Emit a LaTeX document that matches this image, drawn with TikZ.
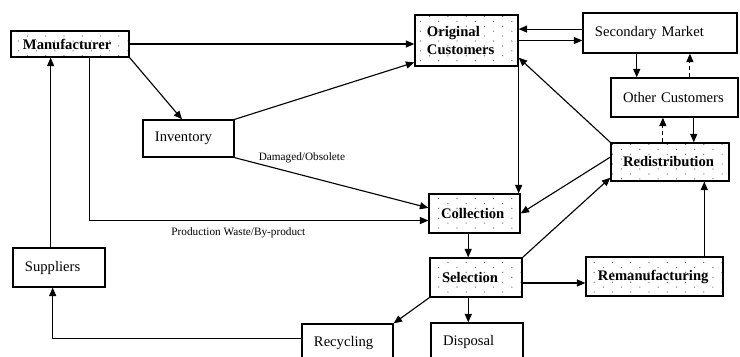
\documentclass[tikz,border=0pt]{standalone}
\usepackage{fontspec}
\setmainfont{Liberation Serif}
\usetikzlibrary{arrows.meta,calc,patterns}

\pgfdeclarepatternformonly{sparsedots}{\pgfqpoint{-1pt}{-1pt}}{\pgfqpoint{8pt}{5pt}}{\pgfqpoint{13pt}{7pt}}{%
	\pgfpathcircle{\pgfqpoint{0pt}{0pt}}{0.45pt}%
	\pgfpathcircle{\pgfqpoint{6.5pt}{3.5pt}}{0.45pt}%
	\pgfusepath{fill}}

\begin{document}
\begin{tikzpicture}[x=0.025cm, y=-0.025cm,
		every node/.style = {font=\fontsize{10.4}{13}\selectfont},
		box/.style 2 args = {draw, line width=0.9pt, inner xsep=0.3cm,
			align=left, text width=#1, minimum height=#2},
		dotbox/.style 2 args = {box={#1}{#2}, pattern=sparsedots,
			pattern color=black!65, font=\fontsize{10.4}{13}\selectfont\bfseries},
		lbl/.style = {font=\fontsize{8}{9}\selectfont, inner sep=1pt},
		flow/.style = {draw, line width=0.8pt, -{Triangle[length=6pt,width=5pt]}},
		back/.style = {flow, densely dashed}]
	\useasboundingbox (0,0) rectangle (740,356);
	\clip (0,0) rectangle (740,356);
	% boxes
	\node (mfr)   [dotbox={2.35cm}{0.65cm}]   at (70,44)      {Manufacturer};
	\node (ocust) [dotbox={1.975cm}{1.275cm}] at (466.5,40.5) {Original\\Customers};
	\node (sm)    [box={3.25cm}{1.0cm}]       at (660,33)     {Secondary Market};
	\node (oth)   [box={2.575cm}{0.975cm}]    at (674.5,97.5) {Other Customers};
	\node (red)   [dotbox={2.35cm}{0.95cm}]   at (670,162)    {Redistribution};
	\node (inv)   [box={1.675cm}{0.925cm}]    at (188.5,138.5) {Inventory};
	\node (coll)  [dotbox={1.675cm}{0.975cm}] at (474.5,213.5) {Collection};
	\node (sel)   [dotbox={1.7cm}{0.975cm}]   at (476,277.5)  {Selection};
	\node (rem)   [dotbox={2.825cm}{0.975cm}] at (654.5,276.5) {Remanufacturing};
	\node (disp)  [box={1.7cm}{0.95cm}]       at (477,342)    {Disposal};
	\node (rec)   [box={1.675cm}{0.95cm}]     at (347.5,343)  {Recycling};
	\node (sup)   [box={1.7cm}{0.975cm}]      at (59,267.5)   {Suppliers};
	% forward flows
	\draw[flow] (mfr.east) -- (mfr.east -| ocust.west);
	\draw[flow] (mfr.south east) -- ($(inv.north west)!0.43!(inv.north east)$);
	\draw[flow] (inv.north east) -- ([yshift=3pt]ocust.south west);
	\draw[flow] (inv.south east) -- ([yshift=4pt]coll.west);
	\node (dmg) [lbl, anchor=west] at ([xshift=16pt]inv.south east) {Damaged/Obsolete};
	\draw[flow] ($(mfr.south west)!0.66!(mfr.south east)$) |- ([yshift=-5pt]coll.west)
		node (waste) [lbl, pos=0.72, below=4pt] {Production Waste/By-product};
	\coordinate (s1) at ($(sup.north west)!0.41!(sup.north east)$);
	\draw[flow] (s1) -- (s1 |- mfr.south);
	\draw[flow] ([yshift=3.5pt]rec.west) -| ([xshift=-4.5pt]sup.south);
	\draw[flow] (ocust.south east) -- (ocust.south east |- coll.north);
	% secondary market and other customers
	\coordinate (smin) at ([yshift=2.8pt]sm.west);
	\draw[flow] (smin) -- (smin -| ocust.east);
	\draw[flow] (ocust.east) -- (ocust.east -| sm.west);
	\coordinate (s2) at ($(sm.south west)!0.35!(sm.south east)$);
	\draw[flow] (s2) -- (s2 |- oth.north);
	\coordinate (o1) at ($(oth.north west)!0.62!(oth.north east)$);
	\draw[back] (o1) -- (o1 |- sm.south);
	\coordinate (r1) at ($(red.north west)!0.44!(red.north east)$);
	\draw[back] (r1) -- (r1 |- oth.south);
	\coordinate (o2) at ($(oth.south west)!0.65!(oth.south east)$);
	\draw[flow] (o2) -- (o2 |- red.north);
	% redistribution
	\draw[flow] (red.north west) -- ([yshift=6.4pt]ocust.south east);
	\draw[flow] ([yshift=3.5pt]red.west) -- (coll.east);
	\draw[flow] (sel.north east) -- ([yshift=2.8pt]red.south west);
	\coordinate (m1) at ($(rem.north west)!0.86!(rem.north east)$);
	\draw[flow] (m1) -- (m1 |- red.south);
	% selection
	\coordinate (c1) at ([xshift=-4.5pt]coll.south);
	\draw[flow] (c1) -- (c1 |- sel.north);
	\coordinate (c2) at ([xshift=-5.5pt]sel.south);
	\draw[flow] (c2) -- (c2 |- disp.north);
	\coordinate (c3) at ([yshift=-3.9pt]sel.east);
	\draw[flow] (c3) -- (c3 -| rem.west);
	\draw[flow] (sel.south west) -- (rec.north east);
\end{tikzpicture}
\end{document}
